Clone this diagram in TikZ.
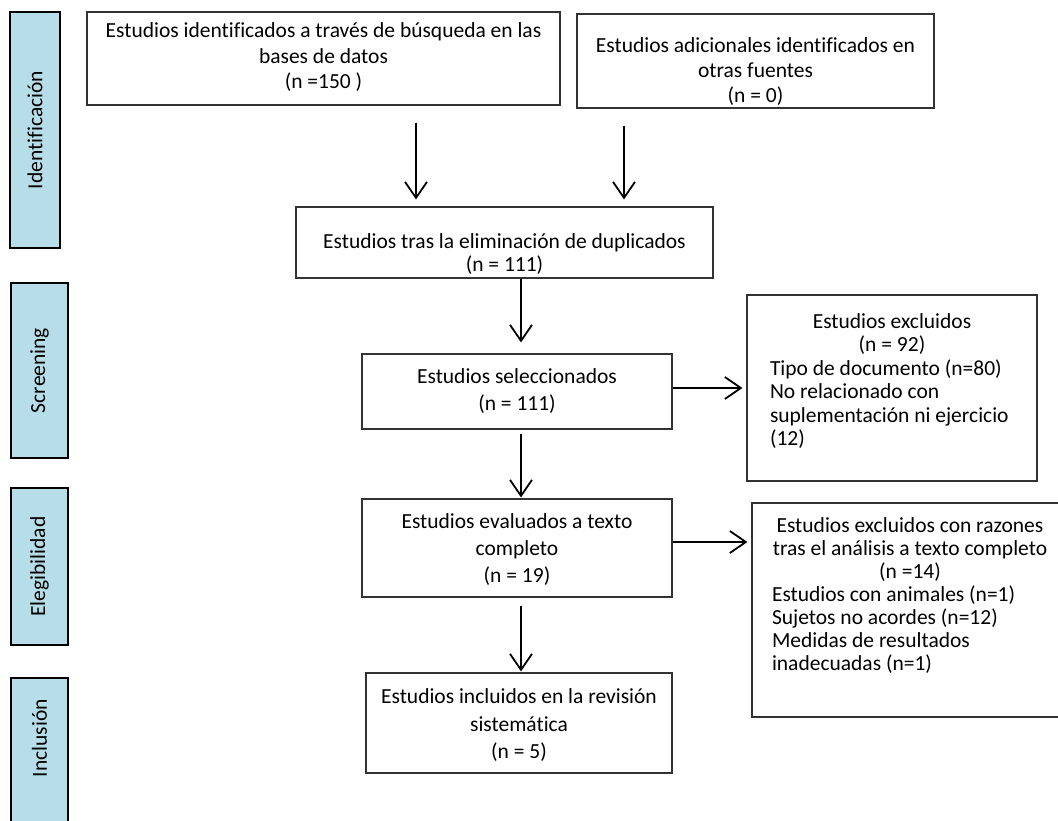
\documentclass[tikz,border=0pt]{standalone}
\usepackage{fontspec}
\setmainfont{Carlito}[Ligatures=NoCommon]
\usetikzlibrary{arrows.meta}
\definecolor{sideblue}{RGB}{183,222,232}
\begin{document}
\begin{tikzpicture}[x=1pt,y=-1pt,
  box/.style={draw=black!80, line width=1.1pt, inner sep=0pt},
  side/.style={draw=black, line width=2pt, fill=sideblue, inner sep=0pt},
  txt/.style={inner sep=0pt, align=center, font=\fontsize{21.5}{26}\selectfont},
  arr/.style={draw=black, line width=1.8pt, -{Straight Barb[length=16pt,width=22pt]}}]
\useasboundingbox (0,0) rectangle (1058,820);
% side labels
\node[side, minimum width=50, minimum height=236] (I1) at (35,130) {};
\node[txt, rotate=90] (I1t) at (I1.center) {Identificación};
\node[side, minimum width=57, minimum height=175] (S) at (39.5,370.5) {};
\node[txt, rotate=90] (St) at (S.center) {Screening};
\node[side, minimum width=57, minimum height=157] (El) at (39.5,566.5) {};
\node[txt, rotate=90] (Elt) at (El.center) {Elegibilidad};
\node[side, minimum width=57, minimum height=160] (In) at (39.5,758) {};
\node[txt, rotate=90] (Int) at (39.5,738) {Inclusión};
% main boxes
\node[box, minimum width=473, minimum height=93] (A) at (323.5,58.5) {};
\node[txt, font=\fontsize{21.5}{25.5}\selectfont] (At) at (323.5,57.5) {Estudios identificados a través de búsqueda en las\\bases de datos\\(n =150 )};
\node[box, minimum width=357, minimum height=94] (B) at (755.5,61) {};
\node[txt, font=\fontsize{21.5}{25}\selectfont] (Bt) at (755.5,72) {Estudios adicionales identificados en\\otras fuentes\\(n = 0)};
\node[box, minimum width=417, minimum height=71] (C) at (504.5,242.5) {};
\node[txt, font=\fontsize{21.5}{23}\selectfont] (Ct) at (504.5,254) {Estudios tras la eliminación de duplicados\\(n = 111)};
\node[box, minimum width=310, minimum height=75] (D) at (517,391.5) {};
\node[txt, font=\fontsize{21.5}{26.5}\selectfont] (Dt) at (517,391) {Estudios seleccionados\\(n = 111)};
\node[box, minimum width=290, minimum height=186] (E) at (892,388) {};
\node[inner sep=0pt] (Et) at (892,381) {\parbox{244pt}{\fontsize{21.5}{23.5}\selectfont\centering Estudios excluidos\\(n = 92)\par\raggedright\mbox{Tipo de documento (n=80)}\\\mbox{No relacionado con}\\\mbox{suplementación ni ejercicio}\\(12)}};
\node[box, minimum width=316, minimum height=214] (G) at (910,610) {};
\node[inner sep=0pt] (Gt) at (910,596) {\parbox{290pt}{\fontsize{21.5}{23}\selectfont\centering Estudios excluidos con razones\\tras el análisis a texto completo\\(n =14)\par\raggedright\hspace*{7pt}\mbox{Estudios con animales (n=1)}\\\hspace*{7pt}\mbox{Sujetos no acordes (n=12)}\\\hspace*{7pt}\mbox{Medidas de resultados}\\\hspace*{7pt}\mbox{inadecuadas (n=1)}}};
\node[box, minimum width=310, minimum height=98] (F) at (517,548) {};
\node[txt, font=\fontsize{21.5}{27}\selectfont] (Ft) at (517,550) {Estudios evaluados a texto\\completo\\(n = 19)};
\node[box, minimum width=306, minimum height=100] (H) at (519,723) {};
\node[txt, font=\fontsize{21.5}{27.5}\selectfont] (Ht) at (519,725.5) {Estudios incluidos en la revisión\\sistemática\\(n = 5)};
% arrows
\coordinate (xa) at (416,0);
\coordinate (xb) at (624,0);
\coordinate (xc) at (521,0);
\coordinate (yd) at (0,388);
\coordinate (yf) at (0,542);
\draw[arr, shorten <=17pt, shorten >=7pt] (A.south -| xa) -- (C.north -| xa);
\draw[arr, shorten <=17pt, shorten >=7pt] (B.south -| xb) -- (C.north -| xb);
\draw[arr, shorten >=11pt] (C.south -| xc) -- (D.north -| xc);
\draw[arr, shorten <=4pt, shorten >=1pt] (D.south -| xc) -- (F.north -| xc);
\draw[arr, shorten <=8pt, shorten >=1pt] (F.south -| xc) -- (H.north -| xc);
\draw[arr, shorten >=4pt] (D.east |- yd) -- (E.west |- yd);
\draw[arr, shorten >=4pt] (F.east |- yf) -- (G.west |- yf);
\end{tikzpicture}
\end{document}
